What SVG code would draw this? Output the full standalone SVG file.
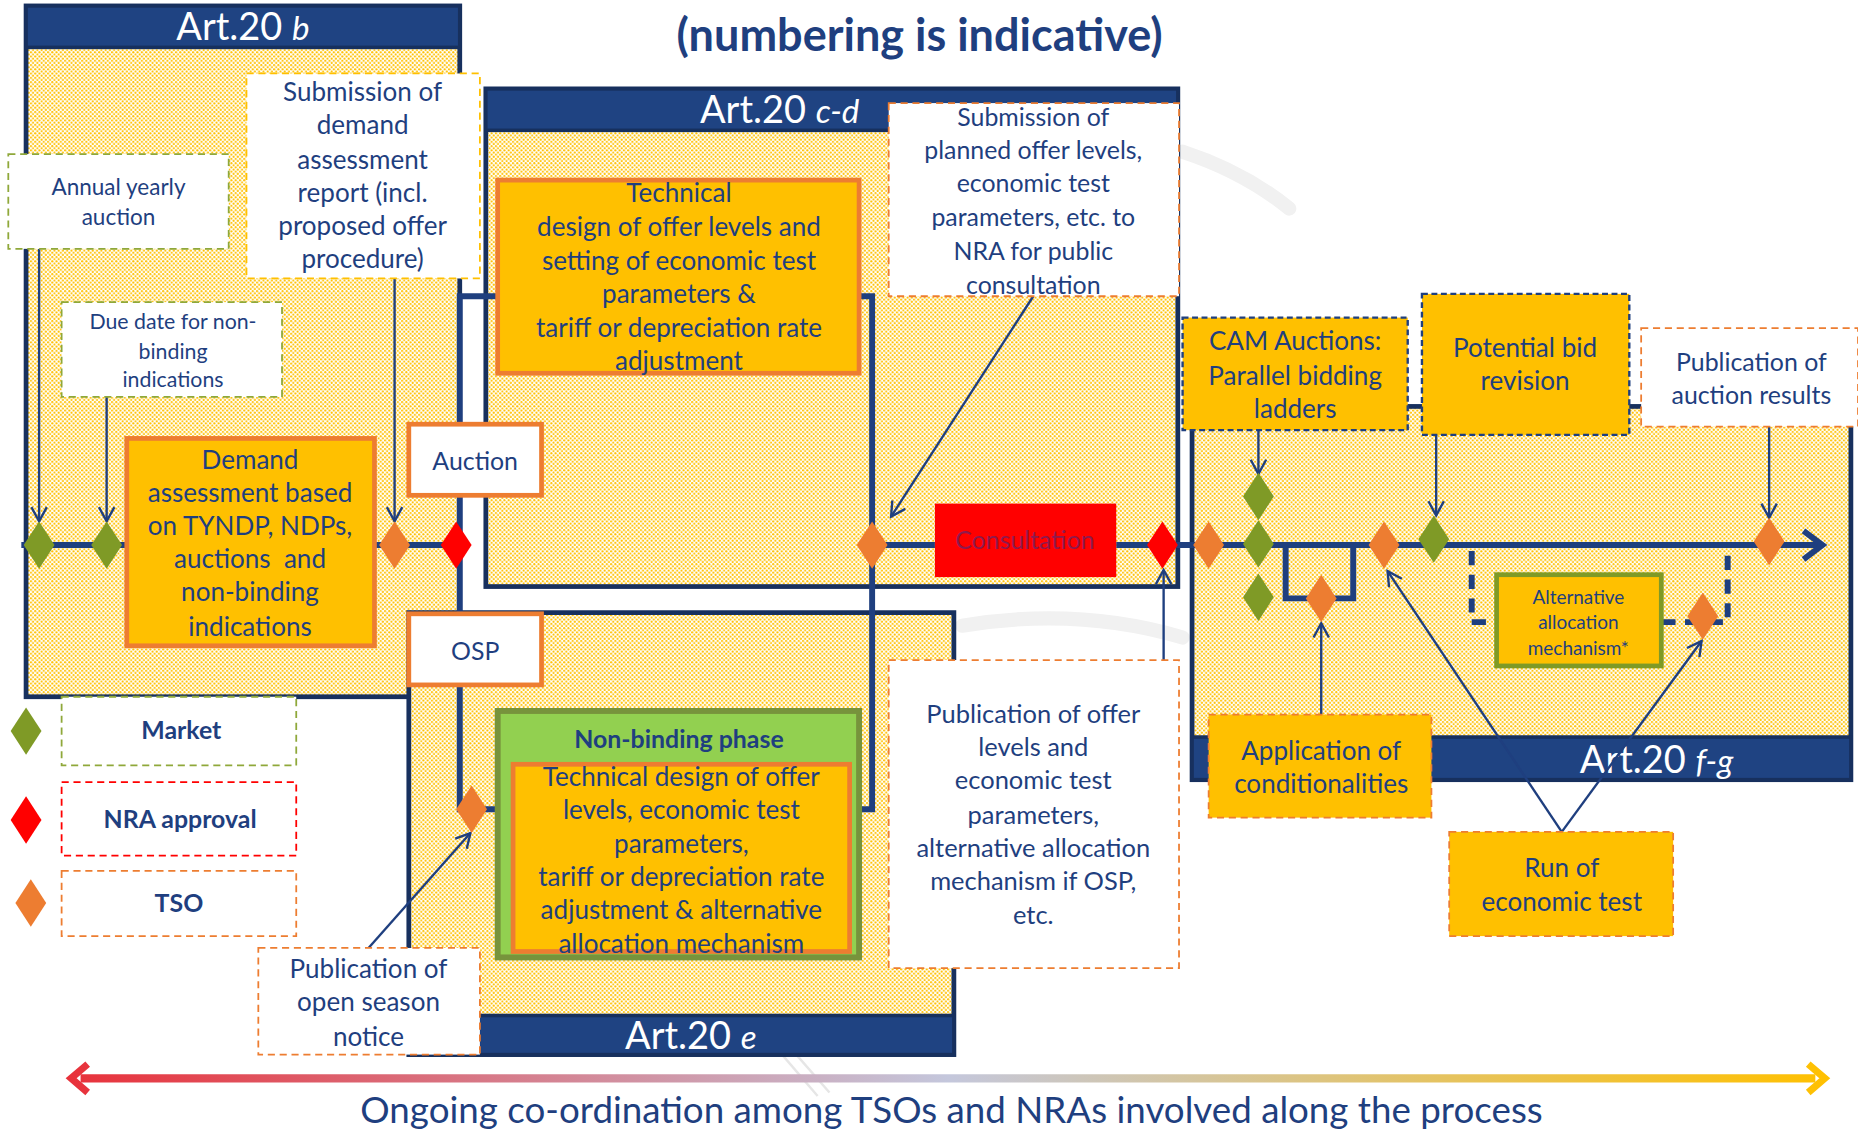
<svg xmlns="http://www.w3.org/2000/svg" width="1858" height="1129" viewBox="0 0 1858 1129">
<style>
text{font-family:Lato,"Open Sans","Liberation Sans",sans-serif;fill:#1F3F7F}
.c{text-anchor:middle}
.b{font-weight:bold}
.panel{fill:url(#dots);stroke:#17305E;stroke-width:4}
.hdr{fill:#1F4382;stroke:#17305E;stroke-width:3}
.hdrt{fill:#ffffff;font-size:32px;text-anchor:middle}
.gold{fill:#FFC000;stroke:#ED7D31;stroke-width:4}
.wo{fill:#ffffff;stroke:#ED7D31;stroke-width:4}
.dy{fill:#ffffff;stroke:#FFC000;stroke-width:1.5;stroke-dasharray:6 4}
.dgb{fill:#ffffff;stroke:#8FA83A;stroke-width:1.5;stroke-dasharray:6 4}
.dob{fill:#ffffff;stroke:#ED7D31;stroke-width:1.5;stroke-dasharray:6 4}
.drb{fill:#ffffff;stroke:#FF0000;stroke-width:1.5;stroke-dasharray:6 4}
.gdn{fill:#FFC000;stroke:#1F3F7F;stroke-width:2;stroke-dasharray:5 3}
.gdo{fill:#FFC000;stroke:#ED7D31;stroke-width:1.5;stroke-dasharray:6 4}
.tl{fill:none;stroke:#1F3F7F;stroke-width:5}
.tld{fill:none;stroke:#1F3F7F;stroke-width:5;stroke-dasharray:12 8}
.ar{fill:none;stroke:#1F3F7F;stroke-width:2;marker-end:url(#arr)}
.mg{fill:#7F9A26}.mo{fill:#ED7D31}.mr{fill:#FF0000}
.wm{fill:none;stroke:#F1F1F1;stroke-width:12;stroke-linecap:round}
</style>
<defs>
<pattern id="dots" patternUnits="userSpaceOnUse" width="3.6" height="3.6">
<rect width="3.6" height="3.6" fill="#FFFFFF"/>
<circle cx="0.9" cy="0.9" r="0.9" fill="#FFC000"/>
<circle cx="2.7" cy="2.7" r="0.9" fill="#FFC000"/>
</pattern>
<linearGradient id="coord" gradientUnits="userSpaceOnUse" x1="58" y1="0" x2="1542" y2="0">
<stop offset="0" stop-color="#E8313A"/>
<stop offset="0.5" stop-color="#C4C7DC"/>
<stop offset="1" stop-color="#FFC000"/>
</linearGradient>
<marker id="arr" markerUnits="userSpaceOnUse" markerWidth="18" markerHeight="18" refX="15" refY="9" orient="auto">
<path d="M3,2.5 L15,9 L3,15.5" fill="none" stroke="#1F3F7F" stroke-width="2"/>
</marker>
<path id="dia" d="M0,-20 L13,0 L0,20 L-13,0 Z"/>
</defs>
<g transform="scale(1.18495)">
<g id="watermark">
<path class="wm" d="M998,128 Q1050,145 1088,176"/>
<path class="wm" d="M812,528 Q910,512 998,538"/>
<path d="M660,890 L690,925 M672,890 L700,922" stroke="#E6E6E6" stroke-width="2" fill="none"/>
</g>
<text id="title" class="c b" x="776" y="43" font-size="38">(numbering is indicative)</text>

<g id="panel-b">
<rect class="panel" x="22" y="5" width="366" height="583"/>
<rect class="hdr" x="22" y="5" width="366" height="35"/>
<text class="hdrt" x="205" y="34">Art.20 <tspan font-style="italic" font-size="28">b</tspan></text>
</g>
<g id="panel-e">
<rect class="panel" x="345" y="517" width="460" height="373"/>
<rect class="hdr" x="345" y="857" width="460" height="33"/>
<text class="hdrt" x="583" y="885">Art.20 <tspan font-style="italic" font-size="28">e</tspan></text>
</g>
<g id="panel-cd">
<rect class="panel" x="410" y="75" width="584" height="420"/>
<rect class="hdr" x="410" y="75" width="584" height="35"/>
<text class="hdrt" x="658" y="104">Art.20 <tspan font-style="italic" font-size="28">c-d</tspan></text>
</g>
<g id="panel-fg">
<rect class="panel" x="1006" y="343" width="556" height="315"/>
<rect class="hdr" x="1006" y="622" width="556" height="36"/>
<text class="hdrt" x="1398" y="652">Art.20 <tspan font-style="italic" font-size="28">f-g</tspan></text>
</g>

<g id="connectors">
<path class="tl" d="M18,460 H107"/>
<path class="tl" d="M316,460 H388"/>
<path class="tl" d="M420,250 H388 V683 H420"/>
<path class="tl" d="M725,250 H736 V683 H725"/>
<path class="tl" d="M736,460 H789"/>
<path class="tl" d="M942,460 H1538"/>
<path class="tl" d="M1522,448 L1538,460 L1522,472"/>
<path class="tl" d="M1085,460 V505 H1142 V460"/>
<path class="tld" d="M1242,465 V525 H1263"/>
<path class="tld" d="M1402,525 H1458 V465"/>
<path class="ar" d="M33,210 V440"/>
<path class="ar" d="M90,335 V440"/>
<path class="ar" d="M333,235 V440"/>
<path class="ar" d="M872,250 L752,436"/>
<path class="ar" d="M982,557 V481"/>
<path class="ar" d="M311,800 L397,703"/>
<path class="ar" d="M1062,363 V400"/>
<path class="ar" d="M1212,367 V435"/>
<path class="ar" d="M1493,360 V437"/>
<path class="ar" d="M1115,603 V526"/>
<path class="ar" d="M1318,702 L1171,482"/>
<path class="ar" d="M1318,702 L1436,541"/>
</g>

<g id="n-annual">
<rect class="dgb" x="7" y="130" width="186" height="80"/>
<text class="c" font-size="19" x="100"><tspan x="100" y="164.5">Annual yearly</tspan><tspan x="100" y="189.5">auction</tspan></text>
</g>
<g id="n-duedate">
<rect class="dgb" x="52" y="255" width="186" height="80"/>
<text class="c" font-size="18" x="146"><tspan x="146" y="278">Due date for non-</tspan><tspan x="146" y="303">binding</tspan><tspan x="146" y="327">indications</tspan></text>
</g>
<g id="n-submission-demand">
<rect class="dy" x="208" y="62" width="197" height="173"/>
<text class="c" font-size="22"><tspan x="306" y="85.5">Submission of</tspan><tspan x="306" y="113.5">demand</tspan><tspan x="306" y="142.5">assessment</tspan><tspan x="306" y="170.5">report (incl.</tspan><tspan x="306" y="198.5">proposed offer</tspan><tspan x="306" y="226.5">procedure)</tspan></text>
</g>
<g id="n-demand">
<rect class="gold" x="107" y="370" width="209" height="175"/>
<text class="c" font-size="22"><tspan x="211" y="395.5">Demand</tspan><tspan x="211" y="423.5">assessment based</tspan><tspan x="211" y="451.5">on TYNDP, NDPs,</tspan><tspan x="211" y="479.5">auctions &#160;and</tspan><tspan x="211" y="507.5">non-binding</tspan><tspan x="211" y="536.5">indications</tspan></text>
</g>
<g id="n-auction">
<rect class="wo" x="345" y="358" width="112" height="60"/>
<text class="c" font-size="21" x="401" y="397">Auction</text>
</g>
<g id="n-osp">
<rect class="wo" x="345" y="518" width="112" height="60"/>
<text class="c" font-size="21" x="401" y="557">OSP</text>
</g>
<g id="n-technical">
<rect class="gold" x="420" y="152" width="305" height="163"/>
<text class="c" font-size="22"><tspan x="573" y="170.5">Technical</tspan><tspan x="573" y="199.5">design of offer levels and</tspan><tspan x="573" y="227.5">setting of economic test</tspan><tspan x="573" y="255.5">parameters &amp;</tspan><tspan x="573" y="284.5">tariff or depreciation rate</tspan><tspan x="573" y="312.5">adjustment</tspan></text>
</g>
<g id="n-submission-planned">
<rect class="dob" x="750" y="87" width="245" height="163"/>
<text class="c" font-size="21"><tspan x="872" y="106">Submission of</tspan><tspan x="872" y="134">planned offer levels,</tspan><tspan x="872" y="162">economic test</tspan><tspan x="872" y="191">parameters, etc. to</tspan><tspan x="872" y="219">NRA for public</tspan><tspan x="872" y="248">consultation</tspan></text>
</g>
<g id="n-consultation">
<rect x="789" y="425" width="153" height="62" fill="#FF0000"/>
<text class="c" font-size="21" x="865" y="463" style="fill:#8E1A4E">Consultation</text>
</g>
<g id="n-nonbinding">
<rect x="420" y="600" width="305" height="208" fill="#92D050" stroke="#77933C" stroke-width="5"/>
<text class="c b" font-size="21" x="573" y="631">Non-binding phase</text>
<rect class="gold" x="433" y="645" width="284" height="158"/>
<text class="c" font-size="22"><tspan x="575" y="663.5">Technical design of offer</tspan><tspan x="575" y="691.5">levels, economic test</tspan><tspan x="575" y="719.5">parameters,</tspan><tspan x="575" y="747.5">tariff or depreciation rate</tspan><tspan x="575" y="775.5">adjustment &amp; alternative</tspan><tspan x="575" y="804.5">allocation mechanism</tspan></text>
</g>
<g id="n-publication-osn">
<rect class="dob" x="218" y="800" width="187" height="90"/>
<text class="c" font-size="22"><tspan x="311" y="825.5">Publication of</tspan><tspan x="311" y="853.5">open season</tspan><tspan x="311" y="882.5">notice</tspan></text>
</g>
<g id="n-publication-offer">
<rect class="dob" x="750" y="557" width="245" height="260"/>
<text class="c" font-size="21.5"><tspan x="872" y="610">Publication of offer</tspan><tspan x="872" y="638">levels and</tspan><tspan x="872" y="666">economic test</tspan><tspan x="872" y="695">parameters,</tspan><tspan x="872" y="723">alternative allocation</tspan><tspan x="872" y="751">mechanism if OSP,</tspan><tspan x="872" y="780">etc.</tspan></text>
</g>
<g id="n-cam">
<rect class="gdn" x="998" y="268" width="190" height="95"/>
<text class="c" font-size="22"><tspan x="1093" y="295.5">CAM Auctions:</tspan><tspan x="1093" y="324.5">Parallel bidding</tspan><tspan x="1093" y="352.5">ladders</tspan></text>
</g>
<g id="n-bidrevision">
<rect class="gdn" x="1200" y="248" width="175" height="119"/>
<text class="c" font-size="22"><tspan x="1287" y="301.5">Potential bid</tspan><tspan x="1287" y="329.5">revision</tspan></text>
</g>
<g id="n-publication-results">
<rect class="dob" x="1385" y="277" width="183" height="83"/>
<text class="c" font-size="21"><tspan x="1478" y="313">Publication of</tspan><tspan x="1478" y="341">auction results</tspan></text>
</g>
<g id="n-alternative">
<rect x="1263" y="485" width="139" height="77" fill="#FFC000" stroke="#7F9A26" stroke-width="4"/>
<text class="c" font-size="16"><tspan x="1332" y="509.5">Alternative</tspan><tspan x="1332" y="530.5">allocation</tspan><tspan x="1332" y="552.5">mechanism*</tspan></text>
</g>
<g id="n-conditionalities">
<rect class="gdo" x="1020" y="603" width="188" height="87"/>
<text class="c" font-size="22"><tspan x="1115" y="641.5">Application of</tspan><tspan x="1115" y="669.5">conditionalities</tspan></text>
</g>
<g id="n-economictest">
<rect class="gdo" x="1223" y="702" width="189" height="88"/>
<text class="c" font-size="22"><tspan x="1318" y="740.5">Run of</tspan><tspan x="1318" y="768.5">economic test</tspan></text>
</g>

<g id="milestones">
<use id="m1" href="#dia" class="mg" x="33" y="460"/>
<use id="m2" href="#dia" class="mg" x="90" y="460"/>
<use id="m3" href="#dia" class="mo" x="333" y="460"/>
<use id="m4" href="#dia" class="mr" x="385" y="460"/>
<use id="m5" href="#dia" class="mo" x="398" y="683"/>
<use id="m6" href="#dia" class="mo" x="736" y="460"/>
<use id="m7" href="#dia" class="mr" x="981" y="460"/>
<use id="m8" href="#dia" class="mo" x="1020" y="460"/>
<use id="m9" href="#dia" class="mg" x="1062" y="419"/>
<use id="m10" href="#dia" class="mg" x="1062" y="459"/>
<use id="m11" href="#dia" class="mg" x="1062" y="504"/>
<use id="m12" href="#dia" class="mo" x="1115" y="505"/>
<use id="m13" href="#dia" class="mo" x="1168" y="460"/>
<use id="m14" href="#dia" class="mg" x="1210" y="455"/>
<use id="m15" href="#dia" class="mo" x="1437" y="520"/>
<use id="m16" href="#dia" class="mo" x="1493" y="457"/>
</g>

<g id="legend">
<use href="#dia" class="mg" x="22" y="617"/>
<rect class="dgb" x="52" y="588" width="198" height="58"/>
<text class="c b" font-size="21" x="153" y="624">Market</text>
<use href="#dia" class="mr" x="22" y="692"/>
<rect class="drb" x="52" y="660" width="198" height="62"/>
<text class="c b" font-size="21" x="152" y="699">NRA approval</text>
<use href="#dia" class="mo" x="26" y="762"/>
<rect class="dob" x="52" y="735" width="198" height="55"/>
<text class="c b" font-size="21" x="151" y="770">TSO</text>
</g>

<g id="coordination">
<path d="M68,910 H1532" stroke="url(#coord)" stroke-width="7" fill="none"/>
<path d="M74,898 L60,910 L74,922" stroke="url(#coord)" stroke-width="6" fill="none"/>
<path d="M1526,898 L1540,910 L1526,922" stroke="url(#coord)" stroke-width="6" fill="none"/>
<text class="c" font-size="31" x="803" y="948">Ongoing co-ordination among TSOs and NRAs involved along the process</text>
</g>
</g>
</svg>
